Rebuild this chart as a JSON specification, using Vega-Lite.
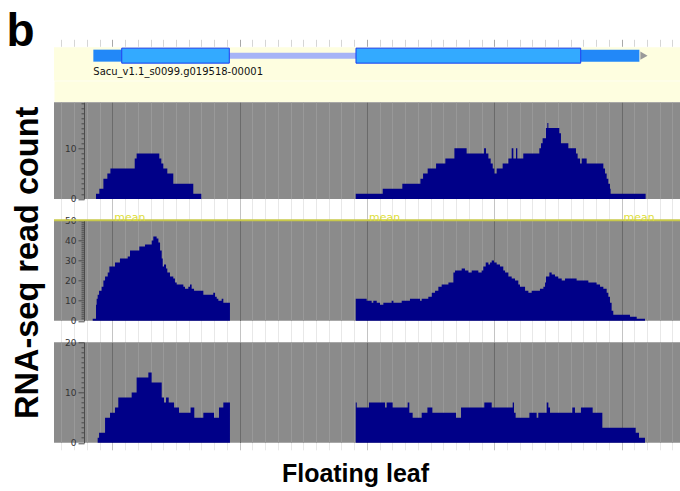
{
  "$schema": "https://vega.github.io/schema/vega-lite/v6.json",
  "autosize": {"type": "pad"},
  "padding": {"left": 6, "top": 8.3, "right": 0, "bottom": 0},
  "background": "white",
  "bounds": "flush",
  "spacing": 21,
  "config": {
    "view": {"stroke": null},
    "font": "Liberation Sans",
    "axis": {"labelFont": "DejaVu Sans", "titleFont": "Liberation Sans"}
  },
  "datasets": {
    "gene": [
      {"part": "utr", "start": 851, "end": 1074},
      {"part": "utr", "start": 4679, "end": 5140},
      {"part": "intron", "start": 1919, "end": 2914},
      {"part": "exon", "start": 1074, "end": 1919},
      {"part": "exon", "start": 2914, "end": 4679}
    ],
    "strand": [{"pos": 5176}],
    "genelabel": [{"start": 851, "name": "Sacu_v1.1_s0099.g019518-00001"}],
    "meanline": [{"level": 50}],
    "meanlabel": [{"pos": 1000, "label": "mean", "level": 50}, {"pos": 3000, "label": "mean", "level": 50}, {"pos": 5000, "label": "mean", "level": 50}],
    "t1": [
      {"pos": 872, "count": 1}, {"pos": 898, "count": 2}, {"pos": 930, "count": 4}, {"pos": 961, "count": 5},
      {"pos": 985, "count": 6}, {"pos": 1176, "count": 8}, {"pos": 1191, "count": 9}, {"pos": 1369, "count": 8},
      {"pos": 1385, "count": 7}, {"pos": 1401, "count": 6}, {"pos": 1432, "count": 5}, {"pos": 1479, "count": 3},
      {"pos": 1636, "count": 1}, {"pos": 1699, "count": 0},
      {"pos": 2912, "count": 1}, {"pos": 3124, "count": 2}, {"pos": 3278, "count": 3}, {"pos": 3420, "count": 4},
      {"pos": 3441, "count": 5}, {"pos": 3477, "count": 6}, {"pos": 3543, "count": 7}, {"pos": 3616, "count": 8},
      {"pos": 3687, "count": 10}, {"pos": 3783, "count": 9}, {"pos": 3920, "count": 10}, {"pos": 3935, "count": 9},
      {"pos": 3954, "count": 8}, {"pos": 3972, "count": 7}, {"pos": 3988, "count": 6}, {"pos": 4001, "count": 5},
      {"pos": 4019, "count": 6}, {"pos": 4066, "count": 7}, {"pos": 4111, "count": 8}, {"pos": 4137, "count": 10},
      {"pos": 4150, "count": 8}, {"pos": 4171, "count": 10}, {"pos": 4181, "count": 8}, {"pos": 4228, "count": 9},
      {"pos": 4354, "count": 10}, {"pos": 4367, "count": 11}, {"pos": 4380, "count": 12}, {"pos": 4406, "count": 14},
      {"pos": 4417, "count": 15}, {"pos": 4425, "count": 14}, {"pos": 4511, "count": 13}, {"pos": 4524, "count": 11},
      {"pos": 4582, "count": 10}, {"pos": 4642, "count": 9}, {"pos": 4655, "count": 8}, {"pos": 4674, "count": 7},
      {"pos": 4687, "count": 8}, {"pos": 4726, "count": 7}, {"pos": 4857, "count": 6}, {"pos": 4870, "count": 5},
      {"pos": 4883, "count": 4}, {"pos": 4896, "count": 3}, {"pos": 4909, "count": 2}, {"pos": 4914, "count": 1},
      {"pos": 5189, "count": 0}
    ],
    "t2": [
      {"pos": 846, "count": 1}, {"pos": 872, "count": 8}, {"pos": 877, "count": 11}, {"pos": 885, "count": 13},
      {"pos": 896, "count": 15}, {"pos": 916, "count": 17}, {"pos": 930, "count": 20}, {"pos": 943, "count": 22},
      {"pos": 964, "count": 24}, {"pos": 977, "count": 27}, {"pos": 1021, "count": 29}, {"pos": 1060, "count": 31},
      {"pos": 1121, "count": 32}, {"pos": 1139, "count": 35}, {"pos": 1212, "count": 37}, {"pos": 1257, "count": 38},
      {"pos": 1309, "count": 40}, {"pos": 1322, "count": 42}, {"pos": 1348, "count": 41}, {"pos": 1362, "count": 39},
      {"pos": 1375, "count": 35}, {"pos": 1388, "count": 31}, {"pos": 1396, "count": 27}, {"pos": 1406, "count": 28},
      {"pos": 1422, "count": 26}, {"pos": 1432, "count": 24}, {"pos": 1453, "count": 22}, {"pos": 1479, "count": 21},
      {"pos": 1492, "count": 19}, {"pos": 1506, "count": 18}, {"pos": 1558, "count": 17}, {"pos": 1571, "count": 16},
      {"pos": 1597, "count": 17}, {"pos": 1610, "count": 18}, {"pos": 1623, "count": 16}, {"pos": 1642, "count": 15},
      {"pos": 1715, "count": 13}, {"pos": 1793, "count": 14}, {"pos": 1807, "count": 12}, {"pos": 1820, "count": 11},
      {"pos": 1833, "count": 10}, {"pos": 1859, "count": 11}, {"pos": 1872, "count": 9}, {"pos": 1924, "count": 0},
      {"pos": 2912, "count": 11}, {"pos": 2998, "count": 10}, {"pos": 3037, "count": 9}, {"pos": 3050, "count": 10},
      {"pos": 3077, "count": 9}, {"pos": 3103, "count": 8}, {"pos": 3129, "count": 9}, {"pos": 3194, "count": 10},
      {"pos": 3208, "count": 9}, {"pos": 3273, "count": 10}, {"pos": 3338, "count": 11}, {"pos": 3417, "count": 10},
      {"pos": 3430, "count": 11}, {"pos": 3482, "count": 12}, {"pos": 3509, "count": 14}, {"pos": 3535, "count": 15},
      {"pos": 3561, "count": 17}, {"pos": 3587, "count": 18}, {"pos": 3640, "count": 19}, {"pos": 3679, "count": 24},
      {"pos": 3692, "count": 25}, {"pos": 3744, "count": 26}, {"pos": 3770, "count": 25}, {"pos": 3797, "count": 24},
      {"pos": 3823, "count": 25}, {"pos": 3875, "count": 24}, {"pos": 3901, "count": 25}, {"pos": 3914, "count": 27},
      {"pos": 3933, "count": 29}, {"pos": 3954, "count": 28}, {"pos": 3967, "count": 29}, {"pos": 3980, "count": 30},
      {"pos": 3998, "count": 29}, {"pos": 4019, "count": 28}, {"pos": 4045, "count": 27}, {"pos": 4071, "count": 25},
      {"pos": 4085, "count": 24}, {"pos": 4111, "count": 22}, {"pos": 4137, "count": 21}, {"pos": 4163, "count": 20},
      {"pos": 4189, "count": 18}, {"pos": 4202, "count": 17}, {"pos": 4242, "count": 15}, {"pos": 4268, "count": 14},
      {"pos": 4294, "count": 15}, {"pos": 4359, "count": 16}, {"pos": 4386, "count": 17}, {"pos": 4399, "count": 19},
      {"pos": 4406, "count": 22}, {"pos": 4433, "count": 24}, {"pos": 4451, "count": 23}, {"pos": 4477, "count": 22},
      {"pos": 4503, "count": 21}, {"pos": 4530, "count": 20}, {"pos": 4556, "count": 21}, {"pos": 4647, "count": 20},
      {"pos": 4739, "count": 19}, {"pos": 4804, "count": 18}, {"pos": 4831, "count": 17}, {"pos": 4857, "count": 16},
      {"pos": 4883, "count": 14}, {"pos": 4896, "count": 12}, {"pos": 4909, "count": 9}, {"pos": 4922, "count": 5},
      {"pos": 4935, "count": 3}, {"pos": 5066, "count": 2}, {"pos": 5119, "count": 1}, {"pos": 5184, "count": 0}
    ],
    "t3": [
      {"pos": 885, "count": 1}, {"pos": 896, "count": 2}, {"pos": 943, "count": 5}, {"pos": 982, "count": 6},
      {"pos": 1021, "count": 7}, {"pos": 1047, "count": 9}, {"pos": 1152, "count": 10}, {"pos": 1191, "count": 13},
      {"pos": 1283, "count": 14}, {"pos": 1309, "count": 12}, {"pos": 1388, "count": 9}, {"pos": 1406, "count": 8},
      {"pos": 1422, "count": 9}, {"pos": 1443, "count": 8}, {"pos": 1485, "count": 7}, {"pos": 1524, "count": 6},
      {"pos": 1615, "count": 7}, {"pos": 1644, "count": 5}, {"pos": 1715, "count": 6}, {"pos": 1799, "count": 5},
      {"pos": 1838, "count": 7}, {"pos": 1872, "count": 8}, {"pos": 1924, "count": 0},
      {"pos": 2912, "count": 8}, {"pos": 2920, "count": 7}, {"pos": 3016, "count": 8}, {"pos": 3142, "count": 7},
      {"pos": 3155, "count": 8}, {"pos": 3202, "count": 7}, {"pos": 3320, "count": 8}, {"pos": 3333, "count": 6},
      {"pos": 3359, "count": 5}, {"pos": 3430, "count": 6}, {"pos": 3475, "count": 7}, {"pos": 3514, "count": 6},
      {"pos": 3700, "count": 5}, {"pos": 3739, "count": 7}, {"pos": 3922, "count": 8}, {"pos": 3980, "count": 7},
      {"pos": 4145, "count": 8}, {"pos": 4155, "count": 6}, {"pos": 4168, "count": 5}, {"pos": 4276, "count": 6},
      {"pos": 4333, "count": 5}, {"pos": 4346, "count": 6}, {"pos": 4412, "count": 8}, {"pos": 4425, "count": 7},
      {"pos": 4438, "count": 6}, {"pos": 4613, "count": 7}, {"pos": 4634, "count": 6}, {"pos": 4681, "count": 7},
      {"pos": 4773, "count": 6}, {"pos": 4849, "count": 3}, {"pos": 5111, "count": 2}, {"pos": 5137, "count": 1},
      {"pos": 5184, "count": 0}
    ]
  },
  "vconcat": [
    {
      "width": 626,
      "height": 33.4,
      "view": {"fill": "#fefee0", "stroke": null},
      "resolve": {"axis": {"x": "independent", "y": "independent"}},
      "layer": [
        {
          "data": {"name": "gene"},
          "transform": [{"filter": "datum.part === 'utr'"}],
          "mark": {"type": "bar", "height": 12, "color": "#2288f8"},
          "encoding": {
            "x": {"field": "start", "type": "quantitative",
              "scale": {"domain": [542, 5459], "nice": false, "zero": false},
              "axis": {"orient": "top", "title": null, "labels": false, "domain": false, "grid": false,
                "values": [600,700,800,900,1000,1100,1200,1300,1400,1500,1600,1700,1800,1900,2000,2100,2200,2300,2400,2500,2600,2700,2800,2900,3000,3100,3200,3300,3400,3500,3600,3700,3800,3900,4000,4100,4200,4300,4400,4500,4600,4700,4800,4900,5000,5100,5200,5300,5400],
                "tickSize": 7, "offset": 1,
                "tickColor": {"condition": {"test": "datum.value % 1000 === 0", "value": "#a8a8a8"}, "value": "#d6d6d6"}}},
            "x2": {"field": "end"},
            "y": {"datum": "gene", "type": "nominal",
              "scale": {"domain": ["gene", "label"], "paddingInner": 0, "paddingOuter": 0},
              "axis": {"title": "b", "titleX": -48, "titleY": -2, "titleAngle": 0, "titleAlign": "left",
                "titleBaseline": "alphabetic", "titleFontSize": 46, "titleFontWeight": "bold", "titleColor": "#000000",
                "labels": false, "ticks": false, "domain": false, "grid": false}}
          }
        },
        {
          "data": {"name": "gene"},
          "transform": [{"filter": "datum.part === 'intron'"}],
          "mark": {"type": "bar", "height": 6, "color": "#a6b4f6"},
          "encoding": {
            "x": {"field": "start", "type": "quantitative", "axis": null},
            "x2": {"field": "end"},
            "y": {"datum": "gene", "type": "nominal", "axis": null}
          }
        },
        {
          "data": {"name": "gene"},
          "transform": [{"filter": "datum.part === 'exon'"}],
          "mark": {"type": "bar", "height": 15, "color": "#33aaff", "stroke": "#1a3cf0", "strokeWidth": 1},
          "encoding": {
            "x": {"field": "start", "type": "quantitative", "axis": null},
            "x2": {"field": "end"},
            "y": {"datum": "gene", "type": "nominal", "axis": null}
          }
        },
        {
          "data": {"name": "strand"},
          "mark": {"type": "point", "shape": "triangle-right", "filled": true, "size": 70, "color": "#9a9a9a", "opacity": 1},
          "encoding": {
            "x": {"field": "pos", "type": "quantitative", "axis": null},
            "y": {"datum": "gene", "type": "nominal", "axis": null}
          }
        },
        {
          "data": {"name": "genelabel"},
          "mark": {"type": "text", "align": "left", "baseline": "alphabetic", "dy": 3, "font": "DejaVu Sans", "fontSize": 10, "color": "#111111"},
          "encoding": {
            "x": {"field": "start", "type": "quantitative",
              "axis": {"orient": "bottom", "title": null, "labels": false, "ticks": false, "grid": false,
                "domain": true, "domainColor": "#fefee0", "domainWidth": 21, "offset": 10.5}},
            "y": {"datum": "label", "type": "nominal", "axis": null},
            "text": {"field": "name"}
          }
        }
      ]
    },
    {
      "width": 626,
      "height": 96.6,
      "view": {"fill": "#8b8b8b", "stroke": null},
      "data": {"name": "t1"},
      "mark": {"type": "area", "interpolate": "step-after", "color": "#000088"},
      "encoding": {
        "x": {"field": "pos", "type": "quantitative",
          "scale": {"domain": [542, 5459], "nice": false, "zero": false},
          "axis": {"orient": "bottom", "title": null, "labels": false, "domain": false, "grid": true,
            "values": [600,700,800,900,1000,1100,1200,1300,1400,1500,1600,1700,1800,1900,2000,2100,2200,2300,2400,2500,2600,2700,2800,2900,3000,3100,3200,3300,3400,3500,3600,3700,3800,3900,4000,4100,4200,4300,4400,4500,4600,4700,4800,4900,5000,5100,5200,5300,5400],
            "gridColor": {"condition": {"test": "datum.value % 1000 === 0", "value": "#6a6a6a"}, "value": "#999999"},
            "tickSize": 21,
            "tickColor": {"condition": {"test": "datum.value % 1000 === 0", "value": "#c4c4c4"}, "value": "#e8e8e8"}}},
        "y": {"field": "count", "type": "quantitative",
          "scale": {"domain": [0, 19.1], "nice": false},
          "axis": {"orient": "left", "offset": -30, "title": null, "grid": false,
            "values": [0,1,2,3,4,5,6,7,8,9,10,11,12,13,14,15,16,17,18,19],
            "labelExpr": "datum.value % 10 === 0 ? datum.label : ''",
            "labelOverlap": false, "labelFlush": false, "labelFontSize": 9, "labelColor": "#333333", "labelPadding": 2,
            "domainColor": "#4a4a4a", "tickColor": "#4a4a4a",
            "tickSize": {"condition": {"test": "datum.value % 10 === 0", "value": 6}, "value": 3}}}
      }
    },
    {
      "width": 626,
      "height": 100.5,
      "view": {"fill": "#8b8b8b", "stroke": null},
      "resolve": {"axis": {"x": "independent", "y": "independent"}},
      "layer": [
        {
          "data": {"name": "t2"},
          "mark": {"type": "area", "interpolate": "step-after", "color": "#000088"},
          "encoding": {
            "x": {"field": "pos", "type": "quantitative",
              "scale": {"domain": [542, 5459], "nice": false, "zero": false},
              "axis": {"orient": "bottom", "title": null, "labels": false, "domain": false, "grid": true,
                "values": [600,700,800,900,1000,1100,1200,1300,1400,1500,1600,1700,1800,1900,2000,2100,2200,2300,2400,2500,2600,2700,2800,2900,3000,3100,3200,3300,3400,3500,3600,3700,3800,3900,4000,4100,4200,4300,4400,4500,4600,4700,4800,4900,5000,5100,5200,5300,5400],
                "gridColor": {"condition": {"test": "datum.value % 1000 === 0", "value": "#6a6a6a"}, "value": "#999999"},
                "tickSize": 21,
                "tickColor": {"condition": {"test": "datum.value % 1000 === 0", "value": "#c4c4c4"}, "value": "#e8e8e8"}}},
            "y": {"field": "count", "type": "quantitative",
              "scale": {"domain": [0, 50], "nice": false},
              "axis": {"orient": "left", "offset": -30, "grid": false,
                "values": [0,1,2,3,4,5,6,7,8,9,10,11,12,13,14,15,16,17,18,19,20,21,22,23,24,25,26,27,28,29,30,31,32,33,34,35,36,37,38,39,40,41,42,43,44,45,46,47,48,49,50],
                "labelExpr": "datum.value % 10 === 0 ? datum.label : ''",
                "labelOverlap": false, "labelFlush": false, "labelFontSize": 9, "labelColor": "#333333", "labelPadding": 2,
                "domainColor": "#4a4a4a", "tickColor": "#4a4a4a",
                "tickSize": {"condition": {"test": "datum.value % 10 === 0", "value": 6}, "value": 3},
                "title": "RNA-seq read count", "titleX": -47, "titleY": 42, "titleAngle": -90,
                "titleAlign": "center", "titleBaseline": "alphabetic", "titleFontSize": 32.5,
                "titleFontWeight": "bold", "titleColor": "#000000"}}
          }
        },
        {
          "data": {"name": "meanline"},
          "mark": {"type": "rule", "color": "#c8c84a", "strokeWidth": 2},
          "encoding": {"y": {"field": "level", "type": "quantitative", "axis": null}}
        },
        {
          "data": {"name": "meanlabel"},
          "mark": {"type": "text", "align": "left", "baseline": "alphabetic", "dx": 2, "dy": 1, "font": "DejaVu Sans", "fontSize": 11, "color": "#dede3a"},
          "encoding": {
            "x": {"field": "pos", "type": "quantitative", "axis": null},
            "y": {"field": "level", "type": "quantitative", "axis": null},
            "text": {"field": "label"}
          }
        }
      ]
    },
    {
      "width": 626,
      "height": 100.5,
      "view": {"fill": "#8b8b8b", "stroke": null},
      "data": {"name": "t3"},
      "mark": {"type": "area", "interpolate": "step-after", "color": "#000088"},
      "encoding": {
        "x": {"field": "pos", "type": "quantitative",
          "scale": {"domain": [542, 5459], "nice": false, "zero": false},
          "axis": {"orient": "bottom", "labels": false, "domain": false, "grid": true,
            "values": [600,700,800,900,1000,1100,1200,1300,1400,1500,1600,1700,1800,1900,2000,2100,2200,2300,2400,2500,2600,2700,2800,2900,3000,3100,3200,3300,3400,3500,3600,3700,3800,3900,4000,4100,4200,4300,4400,4500,4600,4700,4800,4900,5000,5100,5200,5300,5400],
            "gridColor": {"condition": {"test": "datum.value % 1000 === 0", "value": "#6a6a6a"}, "value": "#999999"},
            "tickSize": 7,
            "tickColor": {"condition": {"test": "datum.value % 1000 === 0", "value": "#c4c4c4"}, "value": "#e8e8e8"},
            "title": "Floating leaf", "titleX": 301, "titleY": 39, "titleAlign": "center", "titleBaseline": "alphabetic",
            "titleFontSize": 25, "titleFontWeight": "bold", "titleColor": "#000000"}},
        "y": {"field": "count", "type": "quantitative",
          "scale": {"domain": [0, 20], "nice": false},
          "axis": {"orient": "left", "offset": -30, "title": null, "grid": false,
            "values": [0,1,2,3,4,5,6,7,8,9,10,11,12,13,14,15,16,17,18,19,20],
            "labelExpr": "datum.value % 10 === 0 ? datum.label : ''",
            "labelOverlap": false, "labelFlush": false, "labelFontSize": 9, "labelColor": "#333333", "labelPadding": 2,
            "domainColor": "#4a4a4a", "tickColor": "#4a4a4a",
            "tickSize": {"condition": {"test": "datum.value % 10 === 0", "value": 6}, "value": 3}}}
      }
    }
  ]
}
